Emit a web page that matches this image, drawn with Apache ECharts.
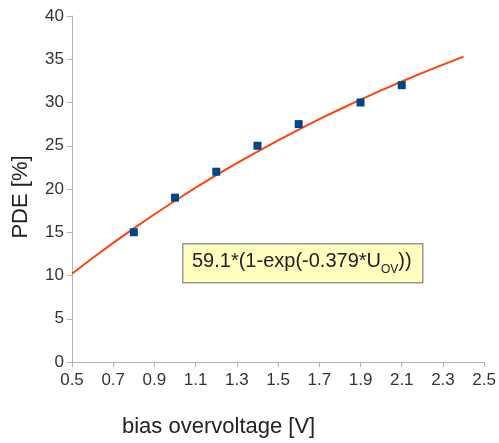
<!DOCTYPE html>
<html><head><meta charset="utf-8">
<script src="https://cdn.jsdelivr.net/npm/echarts@6/dist/echarts.min.js"></script>
<style>html,body{margin:0;padding:0;background:#fff}#c{width:499px;height:443px}</style>
</head><body><div id="c"></div>
<script>
const measX = [0.8, 1.0, 1.2, 1.4, 1.6, 1.9, 2.1];
const measY = [15, 19, 22, 25, 27.5, 30, 32];
const fitX = [0.5,0.6,0.7,0.8,0.9,1.0,1.1,1.2,1.3,1.4,1.5,1.6,1.7,1.8,1.9,2.0,2.1,2.2,2.3,2.4];
const fitY = [10.2,12.02,13.77,15.45,17.08,18.64,20.15,21.6,22.99,24.33,25.63,26.87,28.07,29.22,30.33,31.4,32.43,33.43,34.38,35.3];
const xTicks = [0.5,0.7,0.9,1.1,1.3,1.5,1.7,1.9,2.1,2.3,2.5];
const yTicks = [0,5,10,15,20,25,30,35,40];
const fitLabel = ['59.1*(1-exp(-0.379*U', 'OV', '))'];
const xName = 'bias overvoltage [V]';
const yName = 'PDE [%]';

const chart = echarts.init(document.getElementById('c'));
const font = 'Liberation Sans';
chart.setOption({
  animation: false,
  grid: {left: 72, right: 14, top: 16, bottom: 81},
  xAxis: {
    type: 'value', min: xTicks[0], max: xTicks[xTicks.length-1], interval: 0.2,
    axisLine: {lineStyle: {color: '#b3b3b3'}},
    axisTick: {show: true, length: 5, lineStyle: {color: '#b3b3b3'}},
    splitLine: {show: false},
    axisLabel: {color: '#333', fontSize: 17, fontFamily: font, margin: 10,
      formatter: v => v.toFixed(1)}
  },
  yAxis: {
    type: 'value', min: yTicks[0], max: yTicks[yTicks.length-1], interval: 5,
    axisLine: {show: true, lineStyle: {color: '#b3b3b3'}},
    axisTick: {show: true, length: 5, lineStyle: {color: '#b3b3b3'}},
    splitLine: {show: false},
    axisLabel: {color: '#333', fontSize: 17, fontFamily: font, margin: 8}
  },
  graphic: [
    {type: 'text', left: 122, top: 416,
     style: {text: xName, fill: '#222', fontSize: 22, fontFamily: font}},
    {type: 'text', x: 21, y: 197, rotation: Math.PI/2,
     style: {text: yName, fill: '#222', fontSize: 22, fontFamily: font,
             align: 'center', verticalAlign: 'middle'}},
    {type: 'rect', left: 182, top: 243, z: 10,
     shape: {width: 240, height: 39},
     style: {fill: '#ffffc0', stroke: '#999', lineWidth: 1.5}},
    {type: 'text', left: 192, top: 251, z: 11,
     style: {
       rich: {
         m: {fontSize: 20, fontFamily: font, fill: '#222', lineHeight: 22, verticalAlign: 'bottom'},
         s: {fontSize: 12, fontFamily: font, fill: '#222', lineHeight: 22, verticalAlign: 'bottom', padding: [0,0,-5,0]}
       },
       text: '{m|' + fitLabel[0] + '}{s|' + fitLabel[1] + '}{m|' + fitLabel[2] + '}'
     }}
  ],
  series: [
    {type: 'line', data: fitX.map((x,i)=>[x, fitY[i]]), smooth: false, symbol: 'none',
     lineStyle: {color: '#ff420e', width: 2}, z: 2},
    {type: 'scatter', data: measX.map((x,i)=>[x, measY[i]]), symbol: 'rect', symbolSize: 8,
     itemStyle: {color: '#004586', opacity: 1}, z: 3}
  ]
});
</script></body></html>
